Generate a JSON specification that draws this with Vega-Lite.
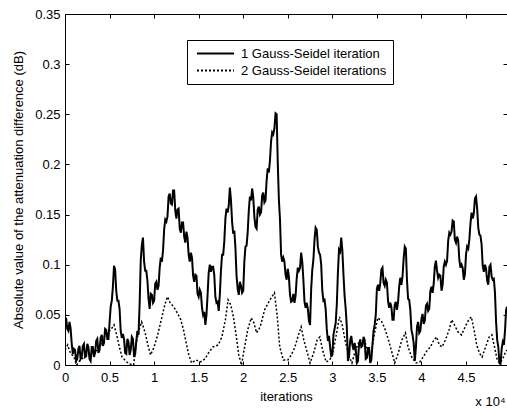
{
  "$schema": "https://vega.github.io/schema/vega-lite/v6.json",
  "width": 442,
  "height": 351,
  "autosize": {"type": "none"},
  "padding": {"left": 65, "top": 14, "right": 0, "bottom": 44},
  "background": "white",
  "title": {
    "text": "x 10⁴",
    "orient": "bottom",
    "anchor": "end",
    "fontSize": 13,
    "fontWeight": "normal",
    "font": "Liberation Sans",
    "color": "black",
    "offset": -7,
    "dx": -2
  },
  "datasets": {
    "one": [
      {"iter": 0.000, "diff": 0.044, "series": "1 Gauss-Seidel iteration"},
      {"iter": 0.025, "diff": 0.036, "series": "1 Gauss-Seidel iteration"},
      {"iter": 0.050, "diff": 0.043, "series": "1 Gauss-Seidel iteration"},
      {"iter": 0.075, "diff": 0.022, "series": "1 Gauss-Seidel iteration"},
      {"iter": 0.100, "diff": 0.016, "series": "1 Gauss-Seidel iteration"},
      {"iter": 0.125, "diff": 0.004, "series": "1 Gauss-Seidel iteration"},
      {"iter": 0.150, "diff": 0.016, "series": "1 Gauss-Seidel iteration"},
      {"iter": 0.175, "diff": 0.006, "series": "1 Gauss-Seidel iteration"},
      {"iter": 0.200, "diff": 0.019, "series": "1 Gauss-Seidel iteration"},
      {"iter": 0.225, "diff": 0.008, "series": "1 Gauss-Seidel iteration"},
      {"iter": 0.250, "diff": 0.021, "series": "1 Gauss-Seidel iteration"},
      {"iter": 0.275, "diff": 0.006, "series": "1 Gauss-Seidel iteration"},
      {"iter": 0.300, "diff": 0.018, "series": "1 Gauss-Seidel iteration"},
      {"iter": 0.325, "diff": 0.008, "series": "1 Gauss-Seidel iteration"},
      {"iter": 0.350, "diff": 0.024, "series": "1 Gauss-Seidel iteration"},
      {"iter": 0.375, "diff": 0.012, "series": "1 Gauss-Seidel iteration"},
      {"iter": 0.400, "diff": 0.027, "series": "1 Gauss-Seidel iteration"},
      {"iter": 0.425, "diff": 0.019, "series": "1 Gauss-Seidel iteration"},
      {"iter": 0.450, "diff": 0.036, "series": "1 Gauss-Seidel iteration"},
      {"iter": 0.475, "diff": 0.026, "series": "1 Gauss-Seidel iteration"},
      {"iter": 0.500, "diff": 0.042, "series": "1 Gauss-Seidel iteration"},
      {"iter": 0.525, "diff": 0.064, "series": "1 Gauss-Seidel iteration"},
      {"iter": 0.550, "diff": 0.099, "series": "1 Gauss-Seidel iteration"},
      {"iter": 0.575, "diff": 0.074, "series": "1 Gauss-Seidel iteration"},
      {"iter": 0.600, "diff": 0.064, "series": "1 Gauss-Seidel iteration"},
      {"iter": 0.625, "diff": 0.034, "series": "1 Gauss-Seidel iteration"},
      {"iter": 0.650, "diff": 0.031, "series": "1 Gauss-Seidel iteration"},
      {"iter": 0.675, "diff": 0.012, "series": "1 Gauss-Seidel iteration"},
      {"iter": 0.700, "diff": 0.026, "series": "1 Gauss-Seidel iteration"},
      {"iter": 0.725, "diff": 0.010, "series": "1 Gauss-Seidel iteration"},
      {"iter": 0.750, "diff": 0.028, "series": "1 Gauss-Seidel iteration"},
      {"iter": 0.775, "diff": 0.008, "series": "1 Gauss-Seidel iteration"},
      {"iter": 0.800, "diff": 0.024, "series": "1 Gauss-Seidel iteration"},
      {"iter": 0.825, "diff": 0.030, "series": "1 Gauss-Seidel iteration"},
      {"iter": 0.850, "diff": 0.104, "series": "1 Gauss-Seidel iteration"},
      {"iter": 0.875, "diff": 0.127, "series": "1 Gauss-Seidel iteration"},
      {"iter": 0.900, "diff": 0.094, "series": "1 Gauss-Seidel iteration"},
      {"iter": 0.925, "diff": 0.084, "series": "1 Gauss-Seidel iteration"},
      {"iter": 0.950, "diff": 0.056, "series": "1 Gauss-Seidel iteration"},
      {"iter": 0.975, "diff": 0.070, "series": "1 Gauss-Seidel iteration"},
      {"iter": 1.000, "diff": 0.064, "series": "1 Gauss-Seidel iteration"},
      {"iter": 1.025, "diff": 0.083, "series": "1 Gauss-Seidel iteration"},
      {"iter": 1.050, "diff": 0.079, "series": "1 Gauss-Seidel iteration"},
      {"iter": 1.075, "diff": 0.107, "series": "1 Gauss-Seidel iteration"},
      {"iter": 1.100, "diff": 0.114, "series": "1 Gauss-Seidel iteration"},
      {"iter": 1.125, "diff": 0.145, "series": "1 Gauss-Seidel iteration"},
      {"iter": 1.150, "diff": 0.148, "series": "1 Gauss-Seidel iteration"},
      {"iter": 1.175, "diff": 0.171, "series": "1 Gauss-Seidel iteration"},
      {"iter": 1.200, "diff": 0.160, "series": "1 Gauss-Seidel iteration"},
      {"iter": 1.225, "diff": 0.174, "series": "1 Gauss-Seidel iteration"},
      {"iter": 1.250, "diff": 0.146, "series": "1 Gauss-Seidel iteration"},
      {"iter": 1.275, "diff": 0.156, "series": "1 Gauss-Seidel iteration"},
      {"iter": 1.300, "diff": 0.132, "series": "1 Gauss-Seidel iteration"},
      {"iter": 1.325, "diff": 0.142, "series": "1 Gauss-Seidel iteration"},
      {"iter": 1.350, "diff": 0.122, "series": "1 Gauss-Seidel iteration"},
      {"iter": 1.375, "diff": 0.127, "series": "1 Gauss-Seidel iteration"},
      {"iter": 1.400, "diff": 0.103, "series": "1 Gauss-Seidel iteration"},
      {"iter": 1.425, "diff": 0.107, "series": "1 Gauss-Seidel iteration"},
      {"iter": 1.450, "diff": 0.083, "series": "1 Gauss-Seidel iteration"},
      {"iter": 1.475, "diff": 0.089, "series": "1 Gauss-Seidel iteration"},
      {"iter": 1.500, "diff": 0.068, "series": "1 Gauss-Seidel iteration"},
      {"iter": 1.525, "diff": 0.072, "series": "1 Gauss-Seidel iteration"},
      {"iter": 1.550, "diff": 0.050, "series": "1 Gauss-Seidel iteration"},
      {"iter": 1.575, "diff": 0.040, "series": "1 Gauss-Seidel iteration"},
      {"iter": 1.600, "diff": 0.070, "series": "1 Gauss-Seidel iteration"},
      {"iter": 1.625, "diff": 0.100, "series": "1 Gauss-Seidel iteration"},
      {"iter": 1.650, "diff": 0.098, "series": "1 Gauss-Seidel iteration"},
      {"iter": 1.675, "diff": 0.090, "series": "1 Gauss-Seidel iteration"},
      {"iter": 1.700, "diff": 0.062, "series": "1 Gauss-Seidel iteration"},
      {"iter": 1.725, "diff": 0.054, "series": "1 Gauss-Seidel iteration"},
      {"iter": 1.750, "diff": 0.094, "series": "1 Gauss-Seidel iteration"},
      {"iter": 1.775, "diff": 0.110, "series": "1 Gauss-Seidel iteration"},
      {"iter": 1.800, "diff": 0.146, "series": "1 Gauss-Seidel iteration"},
      {"iter": 1.825, "diff": 0.152, "series": "1 Gauss-Seidel iteration"},
      {"iter": 1.850, "diff": 0.177, "series": "1 Gauss-Seidel iteration"},
      {"iter": 1.875, "diff": 0.143, "series": "1 Gauss-Seidel iteration"},
      {"iter": 1.900, "diff": 0.134, "series": "1 Gauss-Seidel iteration"},
      {"iter": 1.925, "diff": 0.089, "series": "1 Gauss-Seidel iteration"},
      {"iter": 1.950, "diff": 0.070, "series": "1 Gauss-Seidel iteration"},
      {"iter": 1.975, "diff": 0.079, "series": "1 Gauss-Seidel iteration"},
      {"iter": 2.000, "diff": 0.074, "series": "1 Gauss-Seidel iteration"},
      {"iter": 2.025, "diff": 0.118, "series": "1 Gauss-Seidel iteration"},
      {"iter": 2.050, "diff": 0.132, "series": "1 Gauss-Seidel iteration"},
      {"iter": 2.075, "diff": 0.168, "series": "1 Gauss-Seidel iteration"},
      {"iter": 2.100, "diff": 0.176, "series": "1 Gauss-Seidel iteration"},
      {"iter": 2.125, "diff": 0.148, "series": "1 Gauss-Seidel iteration"},
      {"iter": 2.150, "diff": 0.136, "series": "1 Gauss-Seidel iteration"},
      {"iter": 2.175, "diff": 0.158, "series": "1 Gauss-Seidel iteration"},
      {"iter": 2.200, "diff": 0.152, "series": "1 Gauss-Seidel iteration"},
      {"iter": 2.225, "diff": 0.172, "series": "1 Gauss-Seidel iteration"},
      {"iter": 2.250, "diff": 0.164, "series": "1 Gauss-Seidel iteration"},
      {"iter": 2.275, "diff": 0.196, "series": "1 Gauss-Seidel iteration"},
      {"iter": 2.300, "diff": 0.204, "series": "1 Gauss-Seidel iteration"},
      {"iter": 2.325, "diff": 0.232, "series": "1 Gauss-Seidel iteration"},
      {"iter": 2.350, "diff": 0.236, "series": "1 Gauss-Seidel iteration"},
      {"iter": 2.375, "diff": 0.250, "series": "1 Gauss-Seidel iteration"},
      {"iter": 2.400, "diff": 0.165, "series": "1 Gauss-Seidel iteration"},
      {"iter": 2.425, "diff": 0.110, "series": "1 Gauss-Seidel iteration"},
      {"iter": 2.450, "diff": 0.107, "series": "1 Gauss-Seidel iteration"},
      {"iter": 2.475, "diff": 0.090, "series": "1 Gauss-Seidel iteration"},
      {"iter": 2.500, "diff": 0.096, "series": "1 Gauss-Seidel iteration"},
      {"iter": 2.525, "diff": 0.070, "series": "1 Gauss-Seidel iteration"},
      {"iter": 2.550, "diff": 0.064, "series": "1 Gauss-Seidel iteration"},
      {"iter": 2.575, "diff": 0.062, "series": "1 Gauss-Seidel iteration"},
      {"iter": 2.600, "diff": 0.086, "series": "1 Gauss-Seidel iteration"},
      {"iter": 2.625, "diff": 0.094, "series": "1 Gauss-Seidel iteration"},
      {"iter": 2.650, "diff": 0.112, "series": "1 Gauss-Seidel iteration"},
      {"iter": 2.675, "diff": 0.085, "series": "1 Gauss-Seidel iteration"},
      {"iter": 2.700, "diff": 0.057, "series": "1 Gauss-Seidel iteration"},
      {"iter": 2.725, "diff": 0.056, "series": "1 Gauss-Seidel iteration"},
      {"iter": 2.750, "diff": 0.040, "series": "1 Gauss-Seidel iteration"},
      {"iter": 2.775, "diff": 0.095, "series": "1 Gauss-Seidel iteration"},
      {"iter": 2.800, "diff": 0.125, "series": "1 Gauss-Seidel iteration"},
      {"iter": 2.825, "diff": 0.135, "series": "1 Gauss-Seidel iteration"},
      {"iter": 2.850, "diff": 0.112, "series": "1 Gauss-Seidel iteration"},
      {"iter": 2.875, "diff": 0.100, "series": "1 Gauss-Seidel iteration"},
      {"iter": 2.900, "diff": 0.064, "series": "1 Gauss-Seidel iteration"},
      {"iter": 2.925, "diff": 0.056, "series": "1 Gauss-Seidel iteration"},
      {"iter": 2.950, "diff": 0.024, "series": "1 Gauss-Seidel iteration"},
      {"iter": 2.975, "diff": 0.018, "series": "1 Gauss-Seidel iteration"},
      {"iter": 3.000, "diff": 0.010, "series": "1 Gauss-Seidel iteration"},
      {"iter": 3.025, "diff": 0.036, "series": "1 Gauss-Seidel iteration"},
      {"iter": 3.050, "diff": 0.060, "series": "1 Gauss-Seidel iteration"},
      {"iter": 3.075, "diff": 0.115, "series": "1 Gauss-Seidel iteration"},
      {"iter": 3.100, "diff": 0.127, "series": "1 Gauss-Seidel iteration"},
      {"iter": 3.125, "diff": 0.090, "series": "1 Gauss-Seidel iteration"},
      {"iter": 3.150, "diff": 0.056, "series": "1 Gauss-Seidel iteration"},
      {"iter": 3.175, "diff": 0.004, "series": "1 Gauss-Seidel iteration"},
      {"iter": 3.200, "diff": 0.024, "series": "1 Gauss-Seidel iteration"},
      {"iter": 3.225, "diff": 0.020, "series": "1 Gauss-Seidel iteration"},
      {"iter": 3.250, "diff": 0.022, "series": "1 Gauss-Seidel iteration"},
      {"iter": 3.275, "diff": 0.002, "series": "1 Gauss-Seidel iteration"},
      {"iter": 3.300, "diff": 0.021, "series": "1 Gauss-Seidel iteration"},
      {"iter": 3.325, "diff": 0.018, "series": "1 Gauss-Seidel iteration"},
      {"iter": 3.350, "diff": 0.028, "series": "1 Gauss-Seidel iteration"},
      {"iter": 3.375, "diff": 0.006, "series": "1 Gauss-Seidel iteration"},
      {"iter": 3.400, "diff": 0.017, "series": "1 Gauss-Seidel iteration"},
      {"iter": 3.425, "diff": 0.002, "series": "1 Gauss-Seidel iteration"},
      {"iter": 3.450, "diff": 0.020, "series": "1 Gauss-Seidel iteration"},
      {"iter": 3.475, "diff": 0.040, "series": "1 Gauss-Seidel iteration"},
      {"iter": 3.500, "diff": 0.076, "series": "1 Gauss-Seidel iteration"},
      {"iter": 3.525, "diff": 0.074, "series": "1 Gauss-Seidel iteration"},
      {"iter": 3.550, "diff": 0.095, "series": "1 Gauss-Seidel iteration"},
      {"iter": 3.575, "diff": 0.082, "series": "1 Gauss-Seidel iteration"},
      {"iter": 3.600, "diff": 0.085, "series": "1 Gauss-Seidel iteration"},
      {"iter": 3.625, "diff": 0.064, "series": "1 Gauss-Seidel iteration"},
      {"iter": 3.650, "diff": 0.062, "series": "1 Gauss-Seidel iteration"},
      {"iter": 3.675, "diff": 0.045, "series": "1 Gauss-Seidel iteration"},
      {"iter": 3.700, "diff": 0.060, "series": "1 Gauss-Seidel iteration"},
      {"iter": 3.725, "diff": 0.055, "series": "1 Gauss-Seidel iteration"},
      {"iter": 3.750, "diff": 0.078, "series": "1 Gauss-Seidel iteration"},
      {"iter": 3.775, "diff": 0.080, "series": "1 Gauss-Seidel iteration"},
      {"iter": 3.800, "diff": 0.106, "series": "1 Gauss-Seidel iteration"},
      {"iter": 3.825, "diff": 0.116, "series": "1 Gauss-Seidel iteration"},
      {"iter": 3.850, "diff": 0.066, "series": "1 Gauss-Seidel iteration"},
      {"iter": 3.875, "diff": 0.055, "series": "1 Gauss-Seidel iteration"},
      {"iter": 3.900, "diff": 0.030, "series": "1 Gauss-Seidel iteration"},
      {"iter": 3.925, "diff": 0.004, "series": "1 Gauss-Seidel iteration"},
      {"iter": 3.950, "diff": 0.038, "series": "1 Gauss-Seidel iteration"},
      {"iter": 3.975, "diff": 0.032, "series": "1 Gauss-Seidel iteration"},
      {"iter": 4.000, "diff": 0.046, "series": "1 Gauss-Seidel iteration"},
      {"iter": 4.025, "diff": 0.041, "series": "1 Gauss-Seidel iteration"},
      {"iter": 4.050, "diff": 0.059, "series": "1 Gauss-Seidel iteration"},
      {"iter": 4.075, "diff": 0.054, "series": "1 Gauss-Seidel iteration"},
      {"iter": 4.100, "diff": 0.074, "series": "1 Gauss-Seidel iteration"},
      {"iter": 4.125, "diff": 0.072, "series": "1 Gauss-Seidel iteration"},
      {"iter": 4.150, "diff": 0.098, "series": "1 Gauss-Seidel iteration"},
      {"iter": 4.175, "diff": 0.094, "series": "1 Gauss-Seidel iteration"},
      {"iter": 4.200, "diff": 0.090, "series": "1 Gauss-Seidel iteration"},
      {"iter": 4.225, "diff": 0.074, "series": "1 Gauss-Seidel iteration"},
      {"iter": 4.250, "diff": 0.098, "series": "1 Gauss-Seidel iteration"},
      {"iter": 4.275, "diff": 0.100, "series": "1 Gauss-Seidel iteration"},
      {"iter": 4.300, "diff": 0.124, "series": "1 Gauss-Seidel iteration"},
      {"iter": 4.325, "diff": 0.130, "series": "1 Gauss-Seidel iteration"},
      {"iter": 4.350, "diff": 0.144, "series": "1 Gauss-Seidel iteration"},
      {"iter": 4.375, "diff": 0.125, "series": "1 Gauss-Seidel iteration"},
      {"iter": 4.400, "diff": 0.128, "series": "1 Gauss-Seidel iteration"},
      {"iter": 4.425, "diff": 0.105, "series": "1 Gauss-Seidel iteration"},
      {"iter": 4.450, "diff": 0.100, "series": "1 Gauss-Seidel iteration"},
      {"iter": 4.475, "diff": 0.085, "series": "1 Gauss-Seidel iteration"},
      {"iter": 4.500, "diff": 0.110, "series": "1 Gauss-Seidel iteration"},
      {"iter": 4.525, "diff": 0.116, "series": "1 Gauss-Seidel iteration"},
      {"iter": 4.550, "diff": 0.141, "series": "1 Gauss-Seidel iteration"},
      {"iter": 4.575, "diff": 0.146, "series": "1 Gauss-Seidel iteration"},
      {"iter": 4.600, "diff": 0.166, "series": "1 Gauss-Seidel iteration"},
      {"iter": 4.625, "diff": 0.156, "series": "1 Gauss-Seidel iteration"},
      {"iter": 4.650, "diff": 0.130, "series": "1 Gauss-Seidel iteration"},
      {"iter": 4.675, "diff": 0.120, "series": "1 Gauss-Seidel iteration"},
      {"iter": 4.700, "diff": 0.093, "series": "1 Gauss-Seidel iteration"},
      {"iter": 4.725, "diff": 0.096, "series": "1 Gauss-Seidel iteration"},
      {"iter": 4.750, "diff": 0.080, "series": "1 Gauss-Seidel iteration"},
      {"iter": 4.775, "diff": 0.100, "series": "1 Gauss-Seidel iteration"},
      {"iter": 4.800, "diff": 0.085, "series": "1 Gauss-Seidel iteration"},
      {"iter": 4.825, "diff": 0.072, "series": "1 Gauss-Seidel iteration"},
      {"iter": 4.850, "diff": 0.025, "series": "1 Gauss-Seidel iteration"},
      {"iter": 4.875, "diff": 0.002, "series": "1 Gauss-Seidel iteration"},
      {"iter": 4.900, "diff": 0.016, "series": "1 Gauss-Seidel iteration"},
      {"iter": 4.925, "diff": 0.020, "series": "1 Gauss-Seidel iteration"},
      {"iter": 4.950, "diff": 0.055, "series": "1 Gauss-Seidel iteration"},
      {"iter": 4.960, "diff": 0.058, "series": "1 Gauss-Seidel iteration"},
      {"iter": 0.0125, "diff": 0.047, "series": "1 Gauss-Seidel iteration"},
      {"iter": 0.0375, "diff": 0.034, "series": "1 Gauss-Seidel iteration"},
      {"iter": 0.0625, "diff": 0.037, "series": "1 Gauss-Seidel iteration"},
      {"iter": 0.0875, "diff": 0.011, "series": "1 Gauss-Seidel iteration"},
      {"iter": 0.1125, "diff": 0.015, "series": "1 Gauss-Seidel iteration"},
      {"iter": 0.1375, "diff": 0.006, "series": "1 Gauss-Seidel iteration"},
      {"iter": 0.1625, "diff": 0.019, "series": "1 Gauss-Seidel iteration"},
      {"iter": 0.1875, "diff": 0.008, "series": "1 Gauss-Seidel iteration"},
      {"iter": 0.2125, "diff": 0.021, "series": "1 Gauss-Seidel iteration"},
      {"iter": 0.2375, "diff": 0.009, "series": "1 Gauss-Seidel iteration"},
      {"iter": 0.2625, "diff": 0.018, "series": "1 Gauss-Seidel iteration"},
      {"iter": 0.2875, "diff": 0.004, "series": "1 Gauss-Seidel iteration"},
      {"iter": 0.3125, "diff": 0.018, "series": "1 Gauss-Seidel iteration"},
      {"iter": 0.3375, "diff": 0.012, "series": "1 Gauss-Seidel iteration"},
      {"iter": 0.3625, "diff": 0.026, "series": "1 Gauss-Seidel iteration"},
      {"iter": 0.3875, "diff": 0.015, "series": "1 Gauss-Seidel iteration"},
      {"iter": 0.4125, "diff": 0.030, "series": "1 Gauss-Seidel iteration"},
      {"iter": 0.4375, "diff": 0.022, "series": "1 Gauss-Seidel iteration"},
      {"iter": 0.4625, "diff": 0.035, "series": "1 Gauss-Seidel iteration"},
      {"iter": 0.4875, "diff": 0.026, "series": "1 Gauss-Seidel iteration"},
      {"iter": 0.5125, "diff": 0.058, "series": "1 Gauss-Seidel iteration"},
      {"iter": 0.5375, "diff": 0.078, "series": "1 Gauss-Seidel iteration"},
      {"iter": 0.5625, "diff": 0.095, "series": "1 Gauss-Seidel iteration"},
      {"iter": 0.5875, "diff": 0.064, "series": "1 Gauss-Seidel iteration"},
      {"iter": 0.6125, "diff": 0.056, "series": "1 Gauss-Seidel iteration"},
      {"iter": 0.6375, "diff": 0.027, "series": "1 Gauss-Seidel iteration"},
      {"iter": 0.6625, "diff": 0.026, "series": "1 Gauss-Seidel iteration"},
      {"iter": 0.6875, "diff": 0.011, "series": "1 Gauss-Seidel iteration"},
      {"iter": 0.7125, "diff": 0.023, "series": "1 Gauss-Seidel iteration"},
      {"iter": 0.7375, "diff": 0.015, "series": "1 Gauss-Seidel iteration"},
      {"iter": 0.7625, "diff": 0.026, "series": "1 Gauss-Seidel iteration"},
      {"iter": 0.7875, "diff": 0.011, "series": "1 Gauss-Seidel iteration"},
      {"iter": 0.8125, "diff": 0.034, "series": "1 Gauss-Seidel iteration"},
      {"iter": 0.8375, "diff": 0.061, "series": "1 Gauss-Seidel iteration"},
      {"iter": 0.8625, "diff": 0.120, "series": "1 Gauss-Seidel iteration"},
      {"iter": 0.8875, "diff": 0.103, "series": "1 Gauss-Seidel iteration"},
      {"iter": 0.9125, "diff": 0.094, "series": "1 Gauss-Seidel iteration"},
      {"iter": 0.9375, "diff": 0.066, "series": "1 Gauss-Seidel iteration"},
      {"iter": 0.9625, "diff": 0.071, "series": "1 Gauss-Seidel iteration"},
      {"iter": 0.9875, "diff": 0.062, "series": "1 Gauss-Seidel iteration"},
      {"iter": 1.0125, "diff": 0.081, "series": "1 Gauss-Seidel iteration"},
      {"iter": 1.0375, "diff": 0.075, "series": "1 Gauss-Seidel iteration"},
      {"iter": 1.0625, "diff": 0.097, "series": "1 Gauss-Seidel iteration"},
      {"iter": 1.0875, "diff": 0.103, "series": "1 Gauss-Seidel iteration"},
      {"iter": 1.1125, "diff": 0.135, "series": "1 Gauss-Seidel iteration"},
      {"iter": 1.1375, "diff": 0.143, "series": "1 Gauss-Seidel iteration"},
      {"iter": 1.1625, "diff": 0.168, "series": "1 Gauss-Seidel iteration"},
      {"iter": 1.1875, "diff": 0.161, "series": "1 Gauss-Seidel iteration"},
      {"iter": 1.2125, "diff": 0.174, "series": "1 Gauss-Seidel iteration"},
      {"iter": 1.2375, "diff": 0.154, "series": "1 Gauss-Seidel iteration"},
      {"iter": 1.2625, "diff": 0.155, "series": "1 Gauss-Seidel iteration"},
      {"iter": 1.2875, "diff": 0.136, "series": "1 Gauss-Seidel iteration"},
      {"iter": 1.3125, "diff": 0.142, "series": "1 Gauss-Seidel iteration"},
      {"iter": 1.3375, "diff": 0.128, "series": "1 Gauss-Seidel iteration"},
      {"iter": 1.3625, "diff": 0.133, "series": "1 Gauss-Seidel iteration"},
      {"iter": 1.3875, "diff": 0.110, "series": "1 Gauss-Seidel iteration"},
      {"iter": 1.4125, "diff": 0.112, "series": "1 Gauss-Seidel iteration"},
      {"iter": 1.4375, "diff": 0.089, "series": "1 Gauss-Seidel iteration"},
      {"iter": 1.4625, "diff": 0.090, "series": "1 Gauss-Seidel iteration"},
      {"iter": 1.4875, "diff": 0.071, "series": "1 Gauss-Seidel iteration"},
      {"iter": 1.5125, "diff": 0.075, "series": "1 Gauss-Seidel iteration"},
      {"iter": 1.5375, "diff": 0.057, "series": "1 Gauss-Seidel iteration"},
      {"iter": 1.5625, "diff": 0.053, "series": "1 Gauss-Seidel iteration"},
      {"iter": 1.5875, "diff": 0.050, "series": "1 Gauss-Seidel iteration"},
      {"iter": 1.6125, "diff": 0.092, "series": "1 Gauss-Seidel iteration"},
      {"iter": 1.6375, "diff": 0.093, "series": "1 Gauss-Seidel iteration"},
      {"iter": 1.6625, "diff": 0.098, "series": "1 Gauss-Seidel iteration"},
      {"iter": 1.6875, "diff": 0.068, "series": "1 Gauss-Seidel iteration"},
      {"iter": 1.7125, "diff": 0.063, "series": "1 Gauss-Seidel iteration"},
      {"iter": 1.7375, "diff": 0.070, "series": "1 Gauss-Seidel iteration"},
      {"iter": 1.7625, "diff": 0.110, "series": "1 Gauss-Seidel iteration"},
      {"iter": 1.7875, "diff": 0.123, "series": "1 Gauss-Seidel iteration"},
      {"iter": 1.8125, "diff": 0.156, "series": "1 Gauss-Seidel iteration"},
      {"iter": 1.8375, "diff": 0.159, "series": "1 Gauss-Seidel iteration"},
      {"iter": 1.8625, "diff": 0.164, "series": "1 Gauss-Seidel iteration"},
      {"iter": 1.8875, "diff": 0.131, "series": "1 Gauss-Seidel iteration"},
      {"iter": 1.9125, "diff": 0.117, "series": "1 Gauss-Seidel iteration"},
      {"iter": 1.9375, "diff": 0.076, "series": "1 Gauss-Seidel iteration"},
      {"iter": 1.9625, "diff": 0.083, "series": "1 Gauss-Seidel iteration"},
      {"iter": 1.9875, "diff": 0.072, "series": "1 Gauss-Seidel iteration"},
      {"iter": 2.0125, "diff": 0.103, "series": "1 Gauss-Seidel iteration"},
      {"iter": 2.0375, "diff": 0.119, "series": "1 Gauss-Seidel iteration"},
      {"iter": 2.0625, "diff": 0.154, "series": "1 Gauss-Seidel iteration"},
      {"iter": 2.0875, "diff": 0.164, "series": "1 Gauss-Seidel iteration"},
      {"iter": 2.1125, "diff": 0.167, "series": "1 Gauss-Seidel iteration"},
      {"iter": 2.1375, "diff": 0.138, "series": "1 Gauss-Seidel iteration"},
      {"iter": 2.1625, "diff": 0.155, "series": "1 Gauss-Seidel iteration"},
      {"iter": 2.1875, "diff": 0.150, "series": "1 Gauss-Seidel iteration"},
      {"iter": 2.2125, "diff": 0.169, "series": "1 Gauss-Seidel iteration"},
      {"iter": 2.2375, "diff": 0.162, "series": "1 Gauss-Seidel iteration"},
      {"iter": 2.2625, "diff": 0.184, "series": "1 Gauss-Seidel iteration"},
      {"iter": 2.2875, "diff": 0.192, "series": "1 Gauss-Seidel iteration"},
      {"iter": 2.3125, "diff": 0.223, "series": "1 Gauss-Seidel iteration"},
      {"iter": 2.3375, "diff": 0.230, "series": "1 Gauss-Seidel iteration"},
      {"iter": 2.3625, "diff": 0.251, "series": "1 Gauss-Seidel iteration"},
      {"iter": 2.3875, "diff": 0.202, "series": "1 Gauss-Seidel iteration"},
      {"iter": 2.4125, "diff": 0.145, "series": "1 Gauss-Seidel iteration"},
      {"iter": 2.4375, "diff": 0.103, "series": "1 Gauss-Seidel iteration"},
      {"iter": 2.4625, "diff": 0.103, "series": "1 Gauss-Seidel iteration"},
      {"iter": 2.4875, "diff": 0.085, "series": "1 Gauss-Seidel iteration"},
      {"iter": 2.5125, "diff": 0.088, "series": "1 Gauss-Seidel iteration"},
      {"iter": 2.5375, "diff": 0.063, "series": "1 Gauss-Seidel iteration"},
      {"iter": 2.5625, "diff": 0.071, "series": "1 Gauss-Seidel iteration"},
      {"iter": 2.5875, "diff": 0.069, "series": "1 Gauss-Seidel iteration"},
      {"iter": 2.6125, "diff": 0.097, "series": "1 Gauss-Seidel iteration"},
      {"iter": 2.6375, "diff": 0.097, "series": "1 Gauss-Seidel iteration"},
      {"iter": 2.6625, "diff": 0.103, "series": "1 Gauss-Seidel iteration"},
      {"iter": 2.6875, "diff": 0.063, "series": "1 Gauss-Seidel iteration"},
      {"iter": 2.7125, "diff": 0.062, "series": "1 Gauss-Seidel iteration"},
      {"iter": 2.7375, "diff": 0.044, "series": "1 Gauss-Seidel iteration"},
      {"iter": 2.7625, "diff": 0.076, "series": "1 Gauss-Seidel iteration"},
      {"iter": 2.7875, "diff": 0.105, "series": "1 Gauss-Seidel iteration"},
      {"iter": 2.8125, "diff": 0.137, "series": "1 Gauss-Seidel iteration"},
      {"iter": 2.8375, "diff": 0.118, "series": "1 Gauss-Seidel iteration"},
      {"iter": 2.8625, "diff": 0.110, "series": "1 Gauss-Seidel iteration"},
      {"iter": 2.8875, "diff": 0.074, "series": "1 Gauss-Seidel iteration"},
      {"iter": 2.9125, "diff": 0.065, "series": "1 Gauss-Seidel iteration"},
      {"iter": 2.9375, "diff": 0.036, "series": "1 Gauss-Seidel iteration"},
      {"iter": 2.9625, "diff": 0.029, "series": "1 Gauss-Seidel iteration"},
      {"iter": 2.9875, "diff": 0.009, "series": "1 Gauss-Seidel iteration"},
      {"iter": 3.0125, "diff": 0.030, "series": "1 Gauss-Seidel iteration"},
      {"iter": 3.0375, "diff": 0.042, "series": "1 Gauss-Seidel iteration"},
      {"iter": 3.0625, "diff": 0.092, "series": "1 Gauss-Seidel iteration"},
      {"iter": 3.0875, "diff": 0.113, "series": "1 Gauss-Seidel iteration"},
      {"iter": 3.1125, "diff": 0.114, "series": "1 Gauss-Seidel iteration"},
      {"iter": 3.1375, "diff": 0.069, "series": "1 Gauss-Seidel iteration"},
      {"iter": 3.1625, "diff": 0.038, "series": "1 Gauss-Seidel iteration"},
      {"iter": 3.1875, "diff": 0.009, "series": "1 Gauss-Seidel iteration"},
      {"iter": 3.2125, "diff": 0.029, "series": "1 Gauss-Seidel iteration"},
      {"iter": 3.2375, "diff": 0.015, "series": "1 Gauss-Seidel iteration"},
      {"iter": 3.2625, "diff": 0.016, "series": "1 Gauss-Seidel iteration"},
      {"iter": 3.2875, "diff": 0.004, "series": "1 Gauss-Seidel iteration"},
      {"iter": 3.3125, "diff": 0.025, "series": "1 Gauss-Seidel iteration"},
      {"iter": 3.3375, "diff": 0.019, "series": "1 Gauss-Seidel iteration"},
      {"iter": 3.3625, "diff": 0.025, "series": "1 Gauss-Seidel iteration"},
      {"iter": 3.3875, "diff": 0.007, "series": "1 Gauss-Seidel iteration"},
      {"iter": 3.4125, "diff": 0.017, "series": "1 Gauss-Seidel iteration"},
      {"iter": 3.4375, "diff": 0.005, "series": "1 Gauss-Seidel iteration"},
      {"iter": 3.4625, "diff": 0.034, "series": "1 Gauss-Seidel iteration"},
      {"iter": 3.4875, "diff": 0.050, "series": "1 Gauss-Seidel iteration"},
      {"iter": 3.5125, "diff": 0.080, "series": "1 Gauss-Seidel iteration"},
      {"iter": 3.5375, "diff": 0.081, "series": "1 Gauss-Seidel iteration"},
      {"iter": 3.5625, "diff": 0.097, "series": "1 Gauss-Seidel iteration"},
      {"iter": 3.5875, "diff": 0.079, "series": "1 Gauss-Seidel iteration"},
      {"iter": 3.6125, "diff": 0.082, "series": "1 Gauss-Seidel iteration"},
      {"iter": 3.6375, "diff": 0.057, "series": "1 Gauss-Seidel iteration"},
      {"iter": 3.6625, "diff": 0.058, "series": "1 Gauss-Seidel iteration"},
      {"iter": 3.6875, "diff": 0.045, "series": "1 Gauss-Seidel iteration"},
      {"iter": 3.7125, "diff": 0.063, "series": "1 Gauss-Seidel iteration"},
      {"iter": 3.7375, "diff": 0.063, "series": "1 Gauss-Seidel iteration"},
      {"iter": 3.7625, "diff": 0.087, "series": "1 Gauss-Seidel iteration"},
      {"iter": 3.7875, "diff": 0.088, "series": "1 Gauss-Seidel iteration"},
      {"iter": 3.8125, "diff": 0.118, "series": "1 Gauss-Seidel iteration"},
      {"iter": 3.8375, "diff": 0.085, "series": "1 Gauss-Seidel iteration"},
      {"iter": 3.8625, "diff": 0.065, "series": "1 Gauss-Seidel iteration"},
      {"iter": 3.8875, "diff": 0.035, "series": "1 Gauss-Seidel iteration"},
      {"iter": 3.9125, "diff": 0.022, "series": "1 Gauss-Seidel iteration"},
      {"iter": 3.9375, "diff": 0.017, "series": "1 Gauss-Seidel iteration"},
      {"iter": 3.9625, "diff": 0.043, "series": "1 Gauss-Seidel iteration"},
      {"iter": 3.9875, "diff": 0.034, "series": "1 Gauss-Seidel iteration"},
      {"iter": 4.0125, "diff": 0.051, "series": "1 Gauss-Seidel iteration"},
      {"iter": 4.0375, "diff": 0.044, "series": "1 Gauss-Seidel iteration"},
      {"iter": 4.0625, "diff": 0.061, "series": "1 Gauss-Seidel iteration"},
      {"iter": 4.0875, "diff": 0.056, "series": "1 Gauss-Seidel iteration"},
      {"iter": 4.1125, "diff": 0.078, "series": "1 Gauss-Seidel iteration"},
      {"iter": 4.1375, "diff": 0.081, "series": "1 Gauss-Seidel iteration"},
      {"iter": 4.1625, "diff": 0.104, "series": "1 Gauss-Seidel iteration"},
      {"iter": 4.1875, "diff": 0.087, "series": "1 Gauss-Seidel iteration"},
      {"iter": 4.2125, "diff": 0.089, "series": "1 Gauss-Seidel iteration"},
      {"iter": 4.2375, "diff": 0.080, "series": "1 Gauss-Seidel iteration"},
      {"iter": 4.2625, "diff": 0.103, "series": "1 Gauss-Seidel iteration"},
      {"iter": 4.2875, "diff": 0.104, "series": "1 Gauss-Seidel iteration"},
      {"iter": 4.3125, "diff": 0.132, "series": "1 Gauss-Seidel iteration"},
      {"iter": 4.3375, "diff": 0.133, "series": "1 Gauss-Seidel iteration"},
      {"iter": 4.3625, "diff": 0.143, "series": "1 Gauss-Seidel iteration"},
      {"iter": 4.3875, "diff": 0.122, "series": "1 Gauss-Seidel iteration"},
      {"iter": 4.4125, "diff": 0.124, "series": "1 Gauss-Seidel iteration"},
      {"iter": 4.4375, "diff": 0.097, "series": "1 Gauss-Seidel iteration"},
      {"iter": 4.4625, "diff": 0.097, "series": "1 Gauss-Seidel iteration"},
      {"iter": 4.4875, "diff": 0.090, "series": "1 Gauss-Seidel iteration"},
      {"iter": 4.5125, "diff": 0.118, "series": "1 Gauss-Seidel iteration"},
      {"iter": 4.5375, "diff": 0.125, "series": "1 Gauss-Seidel iteration"},
      {"iter": 4.5625, "diff": 0.152, "series": "1 Gauss-Seidel iteration"},
      {"iter": 4.5875, "diff": 0.151, "series": "1 Gauss-Seidel iteration"},
      {"iter": 4.6125, "diff": 0.168, "series": "1 Gauss-Seidel iteration"},
      {"iter": 4.6375, "diff": 0.137, "series": "1 Gauss-Seidel iteration"},
      {"iter": 4.6625, "diff": 0.129, "series": "1 Gauss-Seidel iteration"},
      {"iter": 4.6875, "diff": 0.099, "series": "1 Gauss-Seidel iteration"},
      {"iter": 4.7125, "diff": 0.100, "series": "1 Gauss-Seidel iteration"},
      {"iter": 4.7375, "diff": 0.084, "series": "1 Gauss-Seidel iteration"},
      {"iter": 4.7625, "diff": 0.098, "series": "1 Gauss-Seidel iteration"},
      {"iter": 4.7875, "diff": 0.088, "series": "1 Gauss-Seidel iteration"},
      {"iter": 4.8125, "diff": 0.086, "series": "1 Gauss-Seidel iteration"},
      {"iter": 4.8375, "diff": 0.043, "series": "1 Gauss-Seidel iteration"},
      {"iter": 4.8625, "diff": 0.018, "series": "1 Gauss-Seidel iteration"},
      {"iter": 4.8875, "diff": 0.001, "series": "1 Gauss-Seidel iteration"},
      {"iter": 4.9125, "diff": 0.023, "series": "1 Gauss-Seidel iteration"},
      {"iter": 4.9375, "diff": 0.034, "series": "1 Gauss-Seidel iteration"}
    ],
    "two": [
      {"iter": 0.00, "diff": 0.015, "series": "2 Gauss-Seidel iterations"},
      {"iter": 0.03, "diff": 0.020, "series": "2 Gauss-Seidel iterations"},
      {"iter": 0.06, "diff": 0.012, "series": "2 Gauss-Seidel iterations"},
      {"iter": 0.10, "diff": 0.008, "series": "2 Gauss-Seidel iterations"},
      {"iter": 0.13, "diff": 0.000, "series": "2 Gauss-Seidel iterations"},
      {"iter": 0.17, "diff": 0.005, "series": "2 Gauss-Seidel iterations"},
      {"iter": 0.22, "diff": 0.008, "series": "2 Gauss-Seidel iterations"},
      {"iter": 0.27, "diff": 0.010, "series": "2 Gauss-Seidel iterations"},
      {"iter": 0.32, "diff": 0.012, "series": "2 Gauss-Seidel iterations"},
      {"iter": 0.36, "diff": 0.015, "series": "2 Gauss-Seidel iterations"},
      {"iter": 0.40, "diff": 0.020, "series": "2 Gauss-Seidel iterations"},
      {"iter": 0.44, "diff": 0.028, "series": "2 Gauss-Seidel iterations"},
      {"iter": 0.48, "diff": 0.032, "series": "2 Gauss-Seidel iterations"},
      {"iter": 0.52, "diff": 0.036, "series": "2 Gauss-Seidel iterations"},
      {"iter": 0.55, "diff": 0.040, "series": "2 Gauss-Seidel iterations"},
      {"iter": 0.58, "diff": 0.030, "series": "2 Gauss-Seidel iterations"},
      {"iter": 0.61, "diff": 0.018, "series": "2 Gauss-Seidel iterations"},
      {"iter": 0.64, "diff": 0.008, "series": "2 Gauss-Seidel iterations"},
      {"iter": 0.68, "diff": 0.004, "series": "2 Gauss-Seidel iterations"},
      {"iter": 0.72, "diff": 0.001, "series": "2 Gauss-Seidel iterations"},
      {"iter": 0.77, "diff": 0.000, "series": "2 Gauss-Seidel iterations"},
      {"iter": 0.80, "diff": 0.022, "series": "2 Gauss-Seidel iterations"},
      {"iter": 0.83, "diff": 0.035, "series": "2 Gauss-Seidel iterations"},
      {"iter": 0.86, "diff": 0.043, "series": "2 Gauss-Seidel iterations"},
      {"iter": 0.90, "diff": 0.032, "series": "2 Gauss-Seidel iterations"},
      {"iter": 0.93, "diff": 0.020, "series": "2 Gauss-Seidel iterations"},
      {"iter": 0.96, "diff": 0.010, "series": "2 Gauss-Seidel iterations"},
      {"iter": 1.00, "diff": 0.018, "series": "2 Gauss-Seidel iterations"},
      {"iter": 1.04, "diff": 0.030, "series": "2 Gauss-Seidel iterations"},
      {"iter": 1.08, "diff": 0.045, "series": "2 Gauss-Seidel iterations"},
      {"iter": 1.12, "diff": 0.060, "series": "2 Gauss-Seidel iterations"},
      {"iter": 1.15, "diff": 0.068, "series": "2 Gauss-Seidel iterations"},
      {"iter": 1.18, "diff": 0.062, "series": "2 Gauss-Seidel iterations"},
      {"iter": 1.22, "diff": 0.058, "series": "2 Gauss-Seidel iterations"},
      {"iter": 1.26, "diff": 0.052, "series": "2 Gauss-Seidel iterations"},
      {"iter": 1.30, "diff": 0.045, "series": "2 Gauss-Seidel iterations"},
      {"iter": 1.33, "diff": 0.035, "series": "2 Gauss-Seidel iterations"},
      {"iter": 1.36, "diff": 0.022, "series": "2 Gauss-Seidel iterations"},
      {"iter": 1.39, "diff": 0.010, "series": "2 Gauss-Seidel iterations"},
      {"iter": 1.42, "diff": 0.002, "series": "2 Gauss-Seidel iterations"},
      {"iter": 1.47, "diff": 0.005, "series": "2 Gauss-Seidel iterations"},
      {"iter": 1.52, "diff": 0.003, "series": "2 Gauss-Seidel iterations"},
      {"iter": 1.57, "diff": 0.006, "series": "2 Gauss-Seidel iterations"},
      {"iter": 1.61, "diff": 0.012, "series": "2 Gauss-Seidel iterations"},
      {"iter": 1.66, "diff": 0.018, "series": "2 Gauss-Seidel iterations"},
      {"iter": 1.72, "diff": 0.020, "series": "2 Gauss-Seidel iterations"},
      {"iter": 1.76, "diff": 0.028, "series": "2 Gauss-Seidel iterations"},
      {"iter": 1.80, "diff": 0.045, "series": "2 Gauss-Seidel iterations"},
      {"iter": 1.83, "diff": 0.065, "series": "2 Gauss-Seidel iterations"},
      {"iter": 1.86, "diff": 0.060, "series": "2 Gauss-Seidel iterations"},
      {"iter": 1.89, "diff": 0.048, "series": "2 Gauss-Seidel iterations"},
      {"iter": 1.92, "diff": 0.030, "series": "2 Gauss-Seidel iterations"},
      {"iter": 1.95, "diff": 0.010, "series": "2 Gauss-Seidel iterations"},
      {"iter": 1.98, "diff": 0.000, "series": "2 Gauss-Seidel iterations"},
      {"iter": 2.01, "diff": 0.015, "series": "2 Gauss-Seidel iterations"},
      {"iter": 2.05, "diff": 0.035, "series": "2 Gauss-Seidel iterations"},
      {"iter": 2.09, "diff": 0.047, "series": "2 Gauss-Seidel iterations"},
      {"iter": 2.12, "diff": 0.042, "series": "2 Gauss-Seidel iterations"},
      {"iter": 2.15, "diff": 0.032, "series": "2 Gauss-Seidel iterations"},
      {"iter": 2.19, "diff": 0.038, "series": "2 Gauss-Seidel iterations"},
      {"iter": 2.24, "diff": 0.055, "series": "2 Gauss-Seidel iterations"},
      {"iter": 2.30, "diff": 0.065, "series": "2 Gauss-Seidel iterations"},
      {"iter": 2.35, "diff": 0.072, "series": "2 Gauss-Seidel iterations"},
      {"iter": 2.38, "diff": 0.050, "series": "2 Gauss-Seidel iterations"},
      {"iter": 2.41, "diff": 0.018, "series": "2 Gauss-Seidel iterations"},
      {"iter": 2.45, "diff": 0.005, "series": "2 Gauss-Seidel iterations"},
      {"iter": 2.50, "diff": 0.005, "series": "2 Gauss-Seidel iterations"},
      {"iter": 2.54, "diff": 0.010, "series": "2 Gauss-Seidel iterations"},
      {"iter": 2.58, "diff": 0.018, "series": "2 Gauss-Seidel iterations"},
      {"iter": 2.62, "diff": 0.030, "series": "2 Gauss-Seidel iterations"},
      {"iter": 2.65, "diff": 0.038, "series": "2 Gauss-Seidel iterations"},
      {"iter": 2.68, "diff": 0.025, "series": "2 Gauss-Seidel iterations"},
      {"iter": 2.72, "diff": 0.012, "series": "2 Gauss-Seidel iterations"},
      {"iter": 2.75, "diff": 0.002, "series": "2 Gauss-Seidel iterations"},
      {"iter": 2.79, "diff": 0.012, "series": "2 Gauss-Seidel iterations"},
      {"iter": 2.83, "diff": 0.025, "series": "2 Gauss-Seidel iterations"},
      {"iter": 2.86, "diff": 0.028, "series": "2 Gauss-Seidel iterations"},
      {"iter": 2.89, "diff": 0.015, "series": "2 Gauss-Seidel iterations"},
      {"iter": 2.93, "diff": 0.003, "series": "2 Gauss-Seidel iterations"},
      {"iter": 2.97, "diff": 0.005, "series": "2 Gauss-Seidel iterations"},
      {"iter": 3.00, "diff": 0.010, "series": "2 Gauss-Seidel iterations"},
      {"iter": 3.04, "diff": 0.028, "series": "2 Gauss-Seidel iterations"},
      {"iter": 3.08, "diff": 0.048, "series": "2 Gauss-Seidel iterations"},
      {"iter": 3.11, "diff": 0.040, "series": "2 Gauss-Seidel iterations"},
      {"iter": 3.15, "diff": 0.022, "series": "2 Gauss-Seidel iterations"},
      {"iter": 3.19, "diff": 0.008, "series": "2 Gauss-Seidel iterations"},
      {"iter": 3.22, "diff": 0.002, "series": "2 Gauss-Seidel iterations"},
      {"iter": 3.26, "diff": 0.015, "series": "2 Gauss-Seidel iterations"},
      {"iter": 3.31, "diff": 0.025, "series": "2 Gauss-Seidel iterations"},
      {"iter": 3.36, "diff": 0.025, "series": "2 Gauss-Seidel iterations"},
      {"iter": 3.40, "diff": 0.012, "series": "2 Gauss-Seidel iterations"},
      {"iter": 3.43, "diff": 0.008, "series": "2 Gauss-Seidel iterations"},
      {"iter": 3.47, "diff": 0.030, "series": "2 Gauss-Seidel iterations"},
      {"iter": 3.51, "diff": 0.047, "series": "2 Gauss-Seidel iterations"},
      {"iter": 3.55, "diff": 0.044, "series": "2 Gauss-Seidel iterations"},
      {"iter": 3.59, "diff": 0.036, "series": "2 Gauss-Seidel iterations"},
      {"iter": 3.63, "diff": 0.025, "series": "2 Gauss-Seidel iterations"},
      {"iter": 3.67, "diff": 0.012, "series": "2 Gauss-Seidel iterations"},
      {"iter": 3.70, "diff": 0.002, "series": "2 Gauss-Seidel iterations"},
      {"iter": 3.74, "diff": 0.012, "series": "2 Gauss-Seidel iterations"},
      {"iter": 3.78, "diff": 0.025, "series": "2 Gauss-Seidel iterations"},
      {"iter": 3.82, "diff": 0.032, "series": "2 Gauss-Seidel iterations"},
      {"iter": 3.85, "diff": 0.018, "series": "2 Gauss-Seidel iterations"},
      {"iter": 3.89, "diff": 0.008, "series": "2 Gauss-Seidel iterations"},
      {"iter": 3.94, "diff": 0.002, "series": "2 Gauss-Seidel iterations"},
      {"iter": 3.98, "diff": 0.003, "series": "2 Gauss-Seidel iterations"},
      {"iter": 4.02, "diff": 0.008, "series": "2 Gauss-Seidel iterations"},
      {"iter": 4.06, "diff": 0.014, "series": "2 Gauss-Seidel iterations"},
      {"iter": 4.10, "diff": 0.018, "series": "2 Gauss-Seidel iterations"},
      {"iter": 4.14, "diff": 0.025, "series": "2 Gauss-Seidel iterations"},
      {"iter": 4.17, "diff": 0.028, "series": "2 Gauss-Seidel iterations"},
      {"iter": 4.20, "diff": 0.020, "series": "2 Gauss-Seidel iterations"},
      {"iter": 4.23, "diff": 0.018, "series": "2 Gauss-Seidel iterations"},
      {"iter": 4.27, "diff": 0.025, "series": "2 Gauss-Seidel iterations"},
      {"iter": 4.31, "diff": 0.035, "series": "2 Gauss-Seidel iterations"},
      {"iter": 4.34, "diff": 0.045, "series": "2 Gauss-Seidel iterations"},
      {"iter": 4.37, "diff": 0.040, "series": "2 Gauss-Seidel iterations"},
      {"iter": 4.41, "diff": 0.033, "series": "2 Gauss-Seidel iterations"},
      {"iter": 4.45, "diff": 0.030, "series": "2 Gauss-Seidel iterations"},
      {"iter": 4.49, "diff": 0.038, "series": "2 Gauss-Seidel iterations"},
      {"iter": 4.53, "diff": 0.045, "series": "2 Gauss-Seidel iterations"},
      {"iter": 4.56, "diff": 0.048, "series": "2 Gauss-Seidel iterations"},
      {"iter": 4.59, "diff": 0.035, "series": "2 Gauss-Seidel iterations"},
      {"iter": 4.62, "diff": 0.020, "series": "2 Gauss-Seidel iterations"},
      {"iter": 4.65, "diff": 0.012, "series": "2 Gauss-Seidel iterations"},
      {"iter": 4.68, "diff": 0.008, "series": "2 Gauss-Seidel iterations"},
      {"iter": 4.72, "diff": 0.018, "series": "2 Gauss-Seidel iterations"},
      {"iter": 4.76, "diff": 0.028, "series": "2 Gauss-Seidel iterations"},
      {"iter": 4.79, "diff": 0.030, "series": "2 Gauss-Seidel iterations"},
      {"iter": 4.82, "diff": 0.018, "series": "2 Gauss-Seidel iterations"},
      {"iter": 4.85, "diff": 0.005, "series": "2 Gauss-Seidel iterations"},
      {"iter": 4.88, "diff": 0.002, "series": "2 Gauss-Seidel iterations"},
      {"iter": 4.91, "diff": 0.006, "series": "2 Gauss-Seidel iterations"},
      {"iter": 4.94, "diff": 0.012, "series": "2 Gauss-Seidel iterations"},
      {"iter": 4.96, "diff": 0.015, "series": "2 Gauss-Seidel iterations"}
    ]
  },
  "config": {
    "font": "Liberation Sans",
    "view": {"stroke": null},
    "axis": {
      "grid": false,
      "domainColor": "black",
      "domainWidth": 1,
      "tickColor": "black",
      "tickWidth": 1,
      "tickSize": -4,
      "labelColor": "black",
      "titleColor": "black",
      "labelFont": "Liberation Sans",
      "titleFont": "Liberation Sans",
      "labelFontSize": 13,
      "titleFontSize": 13,
      "titleFontWeight": "normal",
      "labelFlush": false,
      "labelOverlap": false
    },
    "legend": {
      "labelFont": "Liberation Sans",
      "labelFontSize": 13,
      "labelColor": "black",
      "symbolStrokeColor": "black"
    }
  },
  "layer": [
    {
      "data": {"name": "one"},
      "mark": {"type": "line", "color": "black", "strokeWidth": 2, "clip": true},
      "encoding": {
        "x": {
          "field": "iter",
          "type": "quantitative",
          "scale": {"domain": [0, 4.96], "nice": false, "zero": false},
          "axis": {
            "orient": "bottom",
            "title": "iterations",
            "values": [0, 0.5, 1, 1.5, 2, 2.5, 3, 3.5, 4, 4.5],
            "format": "~g",
            "labelPadding": 10,
            "titlePadding": 6
          }
        },
        "y": {
          "field": "diff",
          "type": "quantitative",
          "scale": {"domain": [0, 0.35], "nice": false},
          "axis": {
            "orient": "left",
            "title": "Absolute value of the attenuation difference (dB)",
            "values": [0, 0.05, 0.1, 0.15, 0.2, 0.25, 0.3, 0.35],
            "format": "~g",
            "labelPadding": 9,
            "titlePadding": 9
          }
        },
        "strokeDash": {
          "field": "series",
          "type": "nominal",
          "scale": {
            "domain": ["1 Gauss-Seidel iteration", "2 Gauss-Seidel iterations"],
            "range": [[1, 0], [2, 2]]
          },
          "legend": {
            "title": null,
            "orient": "none",
            "legendX": 122,
            "legendY": 26,
            "fillColor": "white",
            "strokeColor": "black",
            "padding": 6,
            "rowPadding": 2,
            "symbolType": "M-3,0H3",
            "symbolSize": 152,
            "symbolOffset": 15,
            "symbolStrokeWidth": 1.8,
            "labelOffset": 18
          }
        }
      }
    },
    {
      "data": {"name": "two"},
      "mark": {"type": "line", "color": "black", "strokeWidth": 1.5, "clip": true},
      "encoding": {
        "x": {
          "field": "iter",
          "type": "quantitative",
          "scale": {"domain": [0, 4.96], "nice": false, "zero": false},
          "axis": {
            "orient": "top",
            "title": null,
            "labels": false,
            "values": [0, 0.5, 1, 1.5, 2, 2.5, 3, 3.5, 4, 4.5]
          }
        },
        "y": {
          "field": "diff",
          "type": "quantitative",
          "scale": {"domain": [0, 0.35], "nice": false},
          "axis": {
            "orient": "right",
            "title": null,
            "labels": false,
            "domain": false,
            "values": [0, 0.05, 0.1, 0.15, 0.2, 0.25, 0.3, 0.35]
          }
        },
        "strokeDash": {
          "field": "series",
          "type": "nominal",
          "scale": {
            "domain": ["1 Gauss-Seidel iteration", "2 Gauss-Seidel iterations"],
            "range": [[1, 0], [2, 2]]
          }
        }
      }
    }
  ],
  "resolve": {"axis": {"x": "independent", "y": "independent"}}
}
